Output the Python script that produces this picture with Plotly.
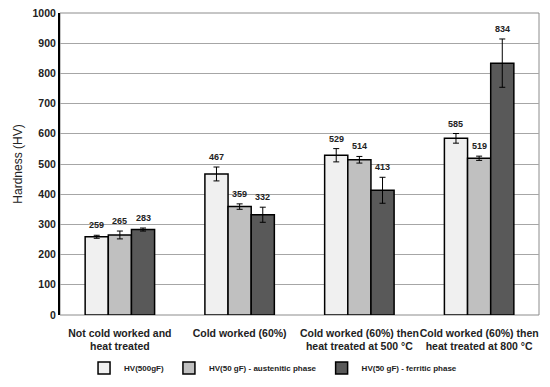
import plotly.graph_objects as go

categories = ["Not cold worked and<br>heat treated", "Cold worked (60%)",
              "Cold worked (60%) then<br>heat treated at 500 °C",
              "Cold worked (60%) then<br>heat treated at 800 °C"]
series_names = ["HV(500gF)", "HV(50 gF) - austenitic phase", "HV(50 gF) - ferritic phase"]
hv500 = [259, 467, 529, 585]
hv500_err = [5, 23, 22, 16]
hv50_aus = [265, 359, 514, 519]
hv50_aus_err = [13, 9, 11, 7]
hv50_fer = [283, 332, 413, 834]
hv50_fer_err = [5, 25, 43, 80]

values = [hv500, hv50_aus, hv50_fer]
errors = [hv500_err, hv50_aus_err, hv50_fer_err]
colors = ["#f0f0f0", "#c0c0c0", "#595959"]

bargap = 0.42
fig = go.Figure()
for name, v, e, c in zip(series_names, values, errors, colors):
    fig.add_trace(go.Bar(
        x=categories, y=v, name=name,
        marker=dict(color=c, line=dict(color="black", width=1.5)),
        error_y=dict(type="data", array=e, color="black", thickness=1, width=3),
    ))

w = (1 - bargap) / 3
annotations = []
for j, (v, e) in enumerate(zip(values, errors)):
    for i, (val, err) in enumerate(zip(v, e)):
        annotations.append(dict(
            x=i + (j - 1) * w, y=val + err, xref="x", yref="y",
            text=str(val), showarrow=False, yanchor="bottom", yshift=3,
            font=dict(family="Liberation Sans", size=9, color="#222222", weight="bold"),
        ))

# page body has an 8px margin, so the figure is sized to fill the rest of the window
fig.update_layout(
    width=542, height=379,
    margin=dict(l=52, r=11, t=5, b=72),
    paper_bgcolor="white", plot_bgcolor="white",
    barmode="group", bargap=bargap, bargroupgap=0,
    font=dict(family="Liberation Sans", color="black"),
    showlegend=True,
    legend=dict(orientation="h", x=0.489, xref="container", xanchor="center",
                y=0.05, yref="container", yanchor="middle",
                font=dict(size=8, weight="bold", color="#222222"),
                itemwidth=30, traceorder="normal", tracegroupgap=0),
    annotations=annotations,
    shapes=[dict(type="rect", xref="paper", yref="paper", x0=0, x1=1, y0=0, y1=1,
                 line=dict(color="#8c8c8c", width=1), layer="below")],
    xaxis=dict(type="category", showgrid=False, showline=False, ticks="",
               tickangle=0, automargin=False, ticklabelstandoff=10,
               tickfont=dict(size=10.5, weight="bold", color="#222222")),
    yaxis=dict(range=[0, 1000], dtick=100, showgrid=True, gridcolor="#a6a6a6",
               gridwidth=1, showline=True, linecolor="black", linewidth=2,
               ticks="", zeroline=False, automargin=False, ticklabeloverflow="allow",
               tickfont=dict(size=10.5, weight="bold", color="#222222"),
               title=dict(text="Hardness (HV)", font=dict(size=12, color="#222222"), standoff=7)),
)

fig.write_html("out.html")
